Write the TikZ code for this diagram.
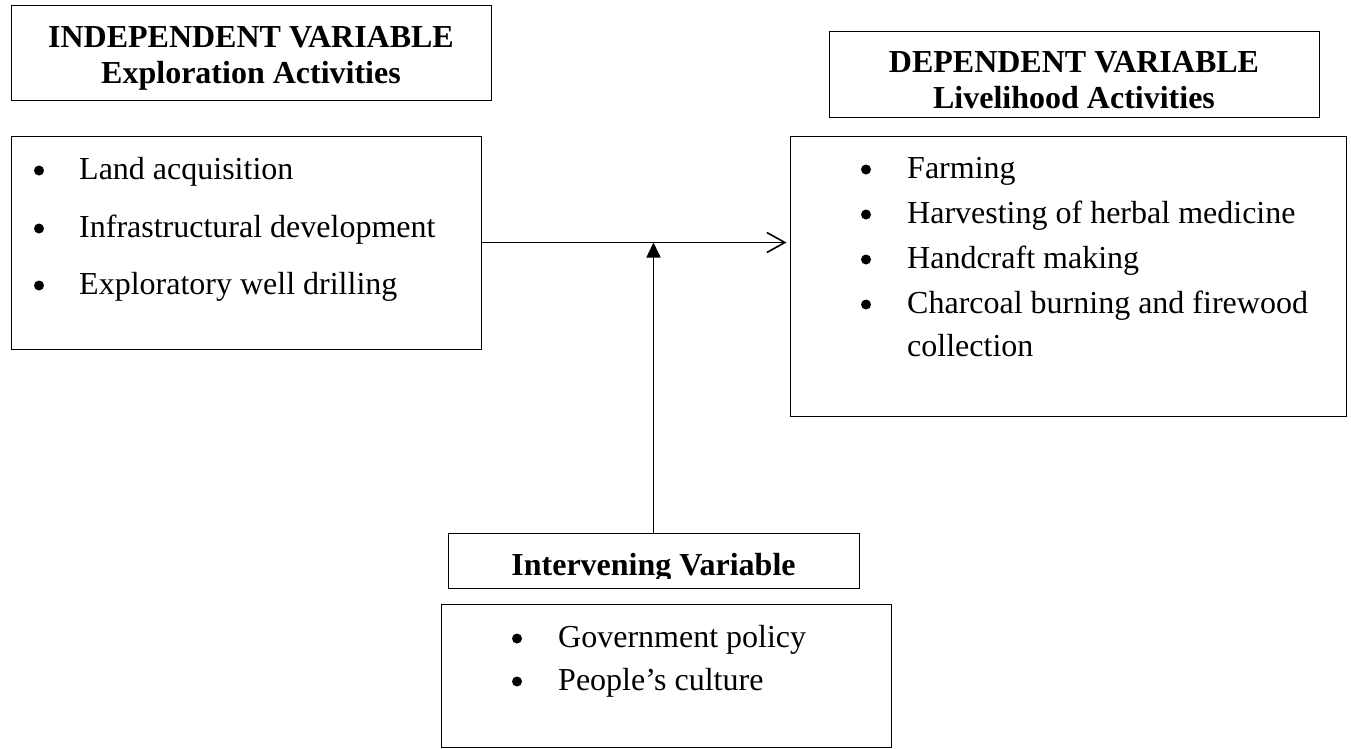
\documentclass[tikz,border=0pt]{standalone}
\usepackage{fontspec}
\setmainfont{Liberation Serif}
\usetikzlibrary{arrows.meta}

\tikzset{
  box/.style={draw, line width=1pt, inner sep=0pt},
  head/.style={anchor=base, inner sep=0pt, font=\fontsize{32}{36}\selectfont\bfseries},
  item/.style={anchor=base west, inner sep=0pt, font=\fontsize{32}{36}\selectfont},
  dot/.style={circle, fill, inner sep=0pt, minimum size=10pt},
  link/.style={line width=1.6pt},
}

\begin{document}
\begin{tikzpicture}[x=1pt,y=-1pt]
	\useasboundingbox (0,0) rectangle (1351,748);
	% boxes
	\node[box, minimum width=480pt, minimum height=95pt] (indephead) at (251,52.5) {};
	\node[box, minimum width=470pt, minimum height=213pt] (indeplist) at (246,242.5) {};
	\node[box, minimum width=490pt, minimum height=86pt] (dephead) at (1074,74) {};
	\node[box, minimum width=556pt, minimum height=280pt] (deplist) at (1068,276) {};
	\node[box, minimum width=411pt, minimum height=55pt] (intvhead) at (653.5,560.5) {};
	\node[box, minimum width=450pt, minimum height=143pt] (intvlist) at (666,675.5) {};
	% titles
	\node[head] (indepA) at (251,47) {INDEPENDENT VARIABLE};
	\node[head] (indepB) at (251,83) {Exploration Activities};
	\node[head] (depA) at (1074,72) {DEPENDENT VARIABLE};
	\node[head] (depB) at (1074,108) {Livelihood Activities};
	\begin{scope}
		\clip (448,533) rectangle (859,578);
		\node[head] (intvA) at (653.5,575) {Intervening Variable};
	\end{scope}
	% lists
	\node[item] (land) at (79,179) {Land acquisition};
	\node[item] (infra) at (79,237) {Infrastructural development};
	\node[item] (drill) at (79,294) {Exploratory well drilling};
	\node[item] (farm) at (907,178) {Farming};
	\node[item] (herb) at (907,223) {Harvesting of herbal medicine};
	\node[item] (craft) at (907,268) {Handcraft making};
	\node[item] (coal) at (907,313) {Charcoal burning and firewood};
	\node[item] (coalB) at (907,356) {collection};
	\node[item] (policy) at (558,647) {Government policy};
	\node[item] (culture) at (558,690) {People’s culture};
	\foreach \nm/\x/\y in {b1/39/179, b2/39/237, b3/39/294, b4/866/178, b5/866/223,
		b6/866/268, b7/866/313, b8/517/647, b9/517/690}
		\node[dot] (\nm) at (\x,\y-8.5) {};
	% arrows
	\coordinate (meet) at (intvhead.north |- indeplist.east);
	\draw[link, -{Straight Barb[length=18pt,width=20pt]}, shorten >=3pt] (indeplist.east) -- (indeplist.east -| deplist.west);
	\draw[link, -{Triangle[length=15pt,width=14pt]}] (intvhead.north) -- (meet);
\end{tikzpicture}
\end{document}
